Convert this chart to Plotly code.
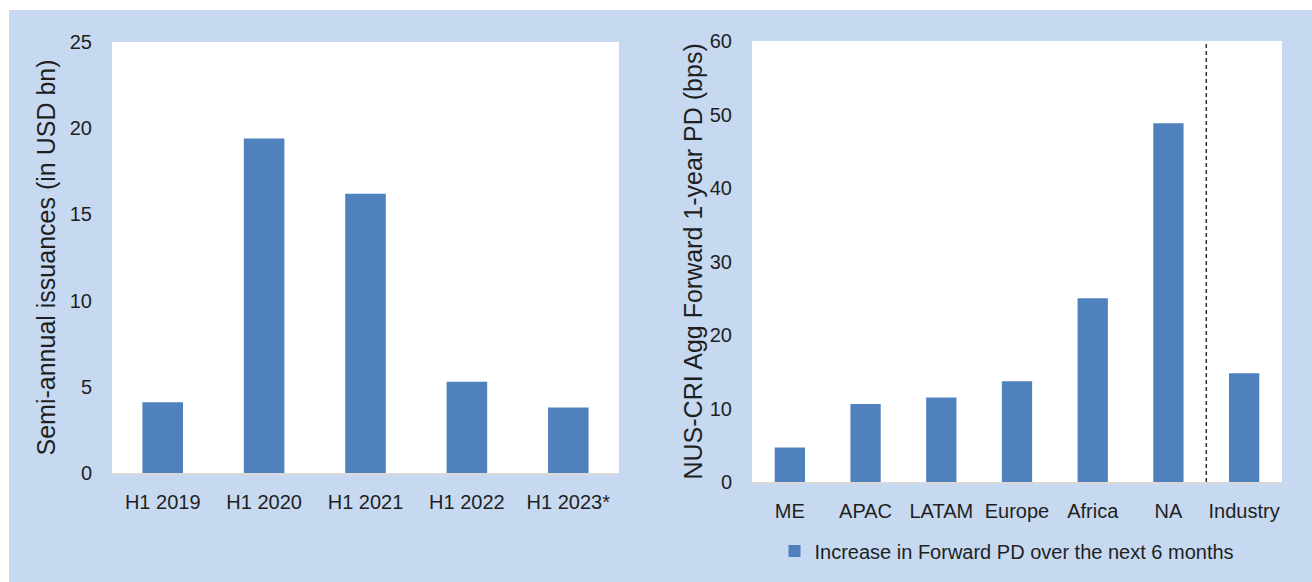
import plotly.graph_objects as go

W, H = 1312, 582

periods = ["H1 2019", "H1 2020", "H1 2021", "H1 2022", "H1 2023*"]
issuances = [4.1, 19.4, 16.2, 5.3, 3.8]

regions = ["ME", "APAC", "LATAM", "Europe", "Africa", "NA", "Industry"]
pd_increase = [4.7, 10.6, 11.5, 13.7, 25.0, 48.8, 14.8]

left_yticks = [0, 5, 10, 15, 20, 25]
right_yticks = [0, 10, 20, 30, 40, 50, 60]

left_title = "Semi-annual issuances (in USD bn)"
right_title = "NUS-CRI Agg Forward 1-year PD (bps)"
legend_name = "Increase in Forward PD over the next 6 months"

BAR = "#4f81bd"
BG = "#c6d9f0"
TXT = "#1f1f1f"
FONT = "Liberation Sans, Arial, sans-serif"

def px_x(p):
    return p / W

def px_y(p):
    return 1 - p / H

fig = go.Figure()
fig.add_trace(go.Bar(x=periods, y=issuances, marker_color=BAR, marker_line_width=0,
                     xaxis="x", yaxis="y", showlegend=False))
fig.add_trace(go.Bar(x=regions, y=pd_increase, marker_color=BAR, marker_line_width=0,
                     xaxis="x2", yaxis="y2", name=legend_name, showlegend=True))

tickfont = dict(family=FONT, size=20, color=TXT)

fig.update_layout(
    width=W, height=H,
    margin=dict(l=0, r=0, t=0, b=0),
    paper_bgcolor=BG,
    plot_bgcolor="white",
    bargap=0.6,
    font=dict(family=FONT, color=TXT),
    xaxis=dict(domain=[px_x(112), px_x(619)], anchor="y", showgrid=False,
               showline=True, linecolor="#d9d9d9", linewidth=2,
               ticks="outside", ticklen=10, tickcolor="rgba(0,0,0,0)",
               tickfont=tickfont, automargin=False, fixedrange=True),
    yaxis=dict(domain=[px_y(473), px_y(42)], anchor="x", range=[0, 25],
               tickvals=left_yticks, showgrid=False, zeroline=False, showline=False,
               ticks="outside", ticklen=15, tickcolor="rgba(0,0,0,0)",
               tickfont=tickfont, automargin=False, fixedrange=True),
    xaxis2=dict(domain=[px_x(752), px_x(1282)], anchor="y2", showgrid=False,
                showline=True, linecolor="#d9d9d9", linewidth=2,
                ticks="outside", ticklen=10, tickcolor="rgba(0,0,0,0)",
                tickfont=tickfont, automargin=False, fixedrange=True),
    yaxis2=dict(domain=[px_y(482), px_y(41)], anchor="x2", range=[0, 60],
                tickvals=right_yticks, showgrid=False, zeroline=False, showline=False,
                ticks="outside", ticklen=15, tickcolor="rgba(0,0,0,0)",
                tickfont=tickfont, automargin=False, fixedrange=True),
    legend=dict(orientation="h", x=px_x(1007), xanchor="center",
                y=px_y(551), yanchor="middle", bgcolor="rgba(0,0,0,0)",
                font=dict(family=FONT, size=20, color=TXT), itemwidth=30),
    shapes=[
        dict(type="rect", xref="paper", yref="paper", x0=-0.01, x1=1.01,
             y0=px_y(10), y1=1.01, fillcolor="white", line_width=0, layer="above"),
        dict(type="rect", xref="paper", yref="paper", x0=-0.01, x1=px_x(9),
             y0=-0.01, y1=1.01, fillcolor="white", line_width=0, layer="above"),
        dict(type="line", xref="x2", yref="y2 domain", x0=5.5, x1=5.5, y0=0, y1=1,
             line=dict(color="#333333", width=1.5, dash="4px,3px")),
    ],
    annotations=[
        dict(text=left_title, xref="paper", yref="paper", x=px_x(45),
             y=(px_y(473) + px_y(42)) / 2, textangle=-90, showarrow=False,
             xanchor="center", yanchor="middle", font=dict(family=FONT, size=25, color=TXT)),
        dict(text=right_title, xref="paper", yref="paper", x=px_x(692),
             y=(px_y(482) + px_y(41)) / 2, textangle=-90, showarrow=False,
             xanchor="center", yanchor="middle", font=dict(family=FONT, size=25, color=TXT)),
    ],
)

fig.write_html("out.html", config={"displayModeBar": False})
